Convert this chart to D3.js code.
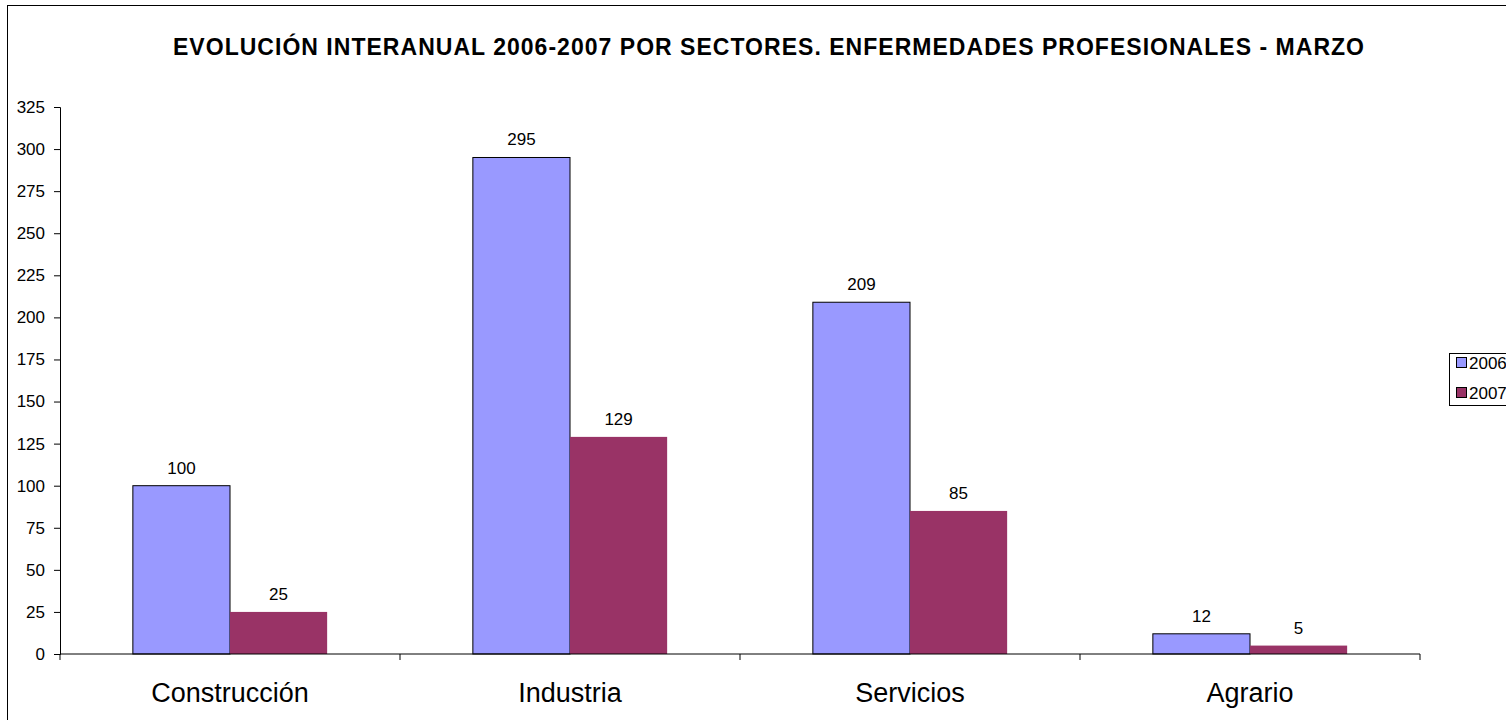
<!DOCTYPE html>
<html>
<head>
<meta charset="utf-8">
<script src="https://cdn.jsdelivr.net/npm/d3@7"></script>
<style>
  body { margin: 0; background: #fff; overflow: hidden; }
  svg { display: block; font-family: "Liberation Sans", Arial, sans-serif; }
</style>
</head>
<body>
<div id="chart"></div>
<script>
const sectors = ["Construcción", "Industria", "Servicios", "Agrario"];
const years = ["2006", "2007"];
const values2006 = [100, 295, 209, 12];
const values2007 = [25, 129, 85, 5];
const yTicks = d3.range(0, 326, 25);
const colors = ["#9999ff", "#993366"];

const series = [values2006, values2007];

// canvas
var svg_width = 1506;
var svg_height = 720;
var svg = d3.select("#chart").append("svg")
  .attr("width", svg_width)
  .attr("height", svg_height);

// outer frame (right and bottom edges fall outside the picture)
svg.append("rect")
  .attr("x", 7.5).attr("y", 5.5)
  .attr("width", 1560).attr("height", 760)
  .attr("fill", "none")
  .attr("stroke", "#000");

var margin = {top: 107, left: 60};
var chart_width = 1360;
var chart_height = 547;

var g = svg.append("g")
  .attr("transform", "translate(" + margin.left + "," + margin.top + ")");

// title
svg.append("text")
  .attr("x", 768.5)
  .attr("y", 55)
  .attr("text-anchor", "middle")
  .attr("font-size", "23px")
  .attr("font-weight", "bold")
  .attr("textLength", 1191)
  .attr("lengthAdjust", "spacing")
  .text("EVOLUCIÓN INTERANUAL 2006-2007 POR SECTORES. ENFERMEDADES PROFESIONALES - MARZO");

// scales
var x = d3.scaleBand()
  .domain(sectors)
  .range([0, chart_width]);

var y = d3.scaleLinear()
  .domain([0, 325])
  .range([chart_height, 0]);

// gap width 150% -> each bar is 1/3.5 of the band
var barW = x.bandwidth() / 3.5;
var gap = barW * 0.75;

// y axis
var yAxis = g.append("g")
  .call(d3.axisLeft(y).tickValues(yTicks).tickSize(6).tickPadding(9));
yAxis.select(".domain").attr("stroke", "#000");
yAxis.selectAll(".tick line").attr("stroke", "#000");
yAxis.selectAll(".tick text")
  .attr("font-size", "17px").attr("fill", "#000")
  .attr("font-family", "Liberation Sans, Arial, sans-serif");

// bars
series.forEach(function(vals, i) {
  g.append("g").selectAll("rect")
    .data(vals)
    .enter().append("rect")
      .attr("x", function(d, j) { return x(sectors[j]) + gap + i * barW; })
      .attr("y", function(d) { return y(d); })
      .attr("width", barW)
      .attr("height", function(d) { return chart_height - y(d); })
      .attr("fill", colors[i])
      .attr("stroke", i === 0 ? "#000" : "none")
      .attr("stroke-width", 1);

  g.append("g").selectAll("text")
    .data(vals)
    .enter().append("text")
      .attr("x", function(d, j) { return x(sectors[j]) + gap + i * barW + barW / 2; })
      .attr("y", function(d) { return y(d) - 12; })
      .attr("text-anchor", "middle")
      .attr("font-size", "17px")
      .text(function(d) { return d; });
});

// x axis (ticks between categories)
var xAxis = g.append("g")
  .attr("transform", "translate(0," + chart_height + ")");
xAxis.append("line")
  .attr("x1", 0).attr("x2", chart_width)
  .attr("stroke", "#000");
xAxis.selectAll(".tk")
  .data(d3.range(sectors.length + 1))
  .enter().append("line")
    .attr("x1", function(d) { return d * x.step(); })
    .attr("x2", function(d) { return d * x.step(); })
    .attr("y1", 0).attr("y2", 6)
    .attr("stroke", "#000");
xAxis.selectAll(".lbl")
  .data(sectors)
  .enter().append("text")
    .attr("x", function(d) { return x(d) + x.bandwidth() / 2; })
    .attr("y", 48)
    .attr("text-anchor", "middle")
    .attr("font-size", "27px")
    .text(function(d) { return d; });

// legend
var legend = svg.append("g");
legend.append("rect")
  .attr("x", 1449.5).attr("y", 353.5)
  .attr("width", 80).attr("height", 52)
  .attr("fill", "#fff").attr("stroke", "#000");
years.forEach(function(yr, i) {
  legend.append("rect")
    .attr("x", 1456.5).attr("y", 357.5 + i * 30)
    .attr("width", 10).attr("height", 10)
    .attr("fill", colors[i])
    .attr("stroke", "#000");
  legend.append("text")
    .attr("x", 1469)
    .attr("y", 369 + i * 30)
    .attr("font-size", "17px")
    .text(yr);
});
</script>
</body>
</html>
